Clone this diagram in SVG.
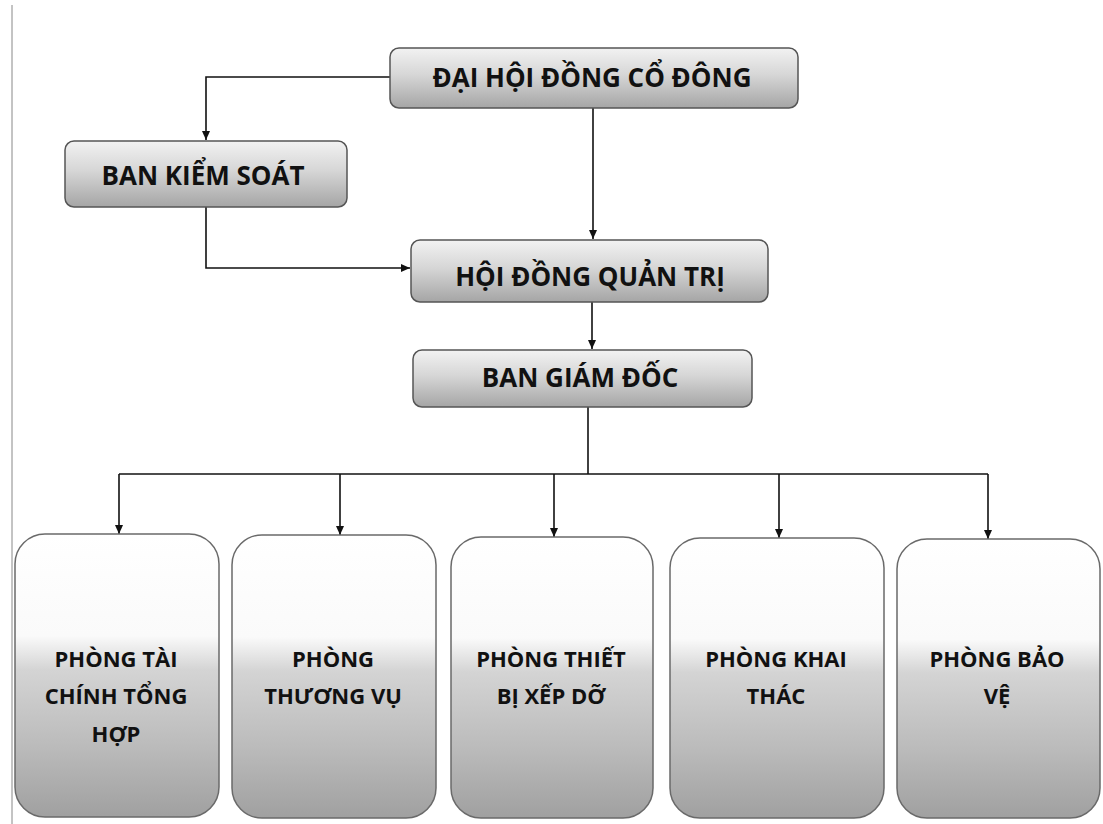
<svg xmlns="http://www.w3.org/2000/svg" width="1103" height="824" viewBox="0 0 1103 824">
  <defs>
    <linearGradient id="gTop" x1="0" y1="0" x2="0" y2="1">
      <stop offset="0" stop-color="#f2f2f2"/>
      <stop offset="0.45" stop-color="#d6d6d6"/>
      <stop offset="1" stop-color="#a5a5a5"/>
    </linearGradient>
    <linearGradient id="gDept" x1="0" y1="0" x2="0" y2="1">
      <stop offset="0" stop-color="#ffffff"/>
      <stop offset="0.36" stop-color="#fafafa"/>
      <stop offset="0.48" stop-color="#d4d4d4"/>
      <stop offset="0.75" stop-color="#bbbbbb"/>
      <stop offset="1" stop-color="#a0a0a0"/>
    </linearGradient>
    <marker id="arr" markerWidth="10" markerHeight="10" refX="9" refY="5" orient="auto" markerUnits="userSpaceOnUse">
      <path d="M0,1 L9,5 L0,9 Z" fill="#111"/>
    </marker>
  </defs>
  <style>
    .top { fill: url(#gTop); stroke: #555; stroke-width: 1.5; }
    .dept { fill: url(#gDept); stroke: #6a6a6a; stroke-width: 1.5; }
    .lbl { font-family: "Open Sans", "Noto Sans", "DejaVu Sans", sans-serif; font-weight: bold; fill: #111; text-anchor: middle; }
    .t1 { font-size: 26px; }
    .t2 { font-size: 22px; }
    .conn { fill: none; stroke: #111; stroke-width: 1.6; }
  </style>
  <rect width="1103" height="824" fill="#ffffff"/>
  <line x1="12" y1="5" x2="12" y2="824" stroke="#888" stroke-width="1"/>

  <g id="connectors">
    <path class="conn" d="M390,77 H206 V140" marker-end="url(#arr)"/>
    <path class="conn" d="M593,108 V239" marker-end="url(#arr)"/>
    <path class="conn" d="M206,207 V268 H410" marker-end="url(#arr)"/>
    <path class="conn" d="M592,302 V349" marker-end="url(#arr)"/>
    <path class="conn" d="M588,407 V474"/>
    <path class="conn" d="M119,474 H988"/>
    <path class="conn" d="M119,474 V534" marker-end="url(#arr)"/>
    <path class="conn" d="M340,474 V535" marker-end="url(#arr)"/>
    <path class="conn" d="M554,474 V537" marker-end="url(#arr)"/>
    <path class="conn" d="M779,474 V538" marker-end="url(#arr)"/>
    <path class="conn" d="M988,474 V539" marker-end="url(#arr)"/>
  </g>

  <g id="dhdcd">
    <rect class="top" x="390" y="48" width="408" height="60" rx="9"/>
    <text class="lbl t1" x="592" y="87">ĐẠI HỘI ĐỒNG CỔ ĐÔNG</text>
  </g>
  <g id="bks">
    <rect class="top" x="65" y="141" width="282" height="66" rx="9"/>
    <text class="lbl t1" x="203" y="185">BAN KIỂM SOÁT</text>
  </g>
  <g id="hdqt">
    <rect class="top" x="411" y="240" width="357" height="62" rx="9"/>
    <text class="lbl t1" x="590" y="286">HỘI ĐỒNG QUẢN TRỊ</text>
  </g>
  <g id="bgd">
    <rect class="top" x="413" y="350" width="339" height="57" rx="9"/>
    <text class="lbl t1" x="580" y="387">BAN GIÁM ĐỐC</text>
  </g>

  <g id="p-taichinh">
    <rect class="dept" x="15" y="534" width="204" height="283" rx="30"/>
    <text class="lbl t2" x="116" y="667">PHÒNG TÀI</text>
    <text class="lbl t2" x="116" y="704">CHÍNH TỔNG</text>
    <text class="lbl t2" x="116" y="742">HỢP</text>
  </g>
  <g id="p-thuongvu">
    <rect class="dept" x="232" y="535" width="204" height="283" rx="30"/>
    <text class="lbl t2" x="333" y="667">PHÒNG</text>
    <text class="lbl t2" x="333" y="704">THƯƠNG VỤ</text>
  </g>
  <g id="p-thietbi">
    <rect class="dept" x="451" y="537" width="202" height="281" rx="30"/>
    <text class="lbl t2" x="551" y="667">PHÒNG THIẾT</text>
    <text class="lbl t2" x="551" y="704">BỊ XẾP DỠ</text>
  </g>
  <g id="p-khaithac">
    <rect class="dept" x="670" y="538" width="214" height="280" rx="30"/>
    <text class="lbl t2" x="776" y="667">PHÒNG KHAI</text>
    <text class="lbl t2" x="776" y="704">THÁC</text>
  </g>
  <g id="p-baove">
    <rect class="dept" x="897" y="539" width="203" height="279" rx="30"/>
    <text class="lbl t2" x="997" y="667">PHÒNG BẢO</text>
    <text class="lbl t2" x="997" y="704">VỆ</text>
  </g>
</svg>
